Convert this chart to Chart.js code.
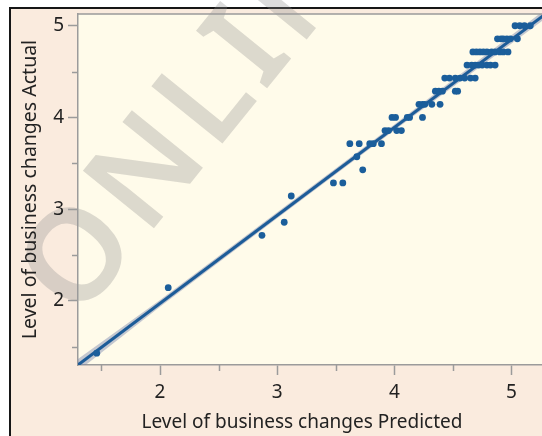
<!DOCTYPE html>
<html>
<head>
<meta charset="utf-8">
<script src="https://cdn.jsdelivr.net/npm/chart.js@4/dist/chart.umd.min.js"></script>
<style>
  html, body { margin: 0; padding: 0; background: #ffffff; }
  #wrap { width: 542px; height: 436px; }
  canvas { display: block; }
</style>
</head>
<body>
<div id="wrap"><canvas id="chart" width="542" height="436"></canvas></div>
<script>
// Axis ticks and titles
const xTickValues = [2, 3, 4, 5];
const yTickValues = [2, 3, 4, 5];
const xMinorTicks = [1.5, 2.5, 3.5, 4.5];
const yMinorTicks = [1.5, 2.5, 3.5, 4.5];
const xTitle = 'Level of business changes Predicted';
const yTitle = 'Level of business changes Actual';

// Observations: predicted vs actual level of business changes
const predicted = [
  1.46,
  2.07,
  2.87,
  3.06,
  3.12,
  3.48, 3.56,
  3.73,
  3.68,
  3.62, 3.70, 3.79, 3.82, 3.89,
  3.92, 3.95, 4.02, 4.06,
  3.98, 4.01, 4.11, 4.13, 4.24,
  4.21, 4.24, 4.26, 4.32, 4.39,
  4.35, 4.38, 4.41, 4.52, 4.54,
  4.43, 4.47, 4.52, 4.56, 4.60, 4.65, 4.69,
  4.62, 4.66, 4.69, 4.72, 4.75, 4.79, 4.82, 4.86,
  4.67, 4.70, 4.73, 4.76, 4.79, 4.83, 4.86, 4.90, 4.93, 4.97,
  4.88, 4.91, 4.93, 4.96, 4.99, 5.05,
  5.03, 5.07, 5.11, 5.16
];
const actual = [
  1.429,
  2.143,
  2.714,
  2.857,
  3.143,
  3.286, 3.286,
  3.429,
  3.571,
  3.714, 3.714, 3.714, 3.714, 3.714,
  3.857, 3.857, 3.857, 3.857,
  4.0, 4.0, 4.0, 4.0, 4.0,
  4.143, 4.143, 4.143, 4.143, 4.143,
  4.286, 4.286, 4.286, 4.286, 4.286,
  4.429, 4.429, 4.429, 4.429, 4.429, 4.429, 4.429,
  4.571, 4.571, 4.571, 4.571, 4.571, 4.571, 4.571, 4.571,
  4.714, 4.714, 4.714, 4.714, 4.714, 4.714, 4.714, 4.714, 4.714, 4.714,
  4.857, 4.857, 4.857, 4.857, 4.857, 4.857,
  5.0, 5.0, 5.0, 5.0
];

// Fit line and its confidence band
const fitX = [1.30, 5.27];
const fitY = [1.30, 5.11];
const bandX = [1.30, 2.0, 3.0, 4.0, 5.27];
const bandLower = [1.235, 1.935, 2.900, 3.860, 5.06];
const bandUpper = [1.365, 2.010, 2.965, 3.922, 5.16];

const toPoints = (xs, ys) => xs.map((x, i) => ({ x: x, y: ys[i] }));

const FONT = "'Noto Sans', 'Open Sans', 'DejaVu Sans', sans-serif";
const OUTER_BG = '#FAEBDE';
const PLOT_BG = '#FFFBEA';
const AXIS_GRAY = '#9b9b9b';
const TEXT = '#222222';

const backdrop = {
  id: 'backdrop',
  beforeDraw(chart) {
    const { ctx, chartArea: a, width, height } = chart;
    ctx.save();
    ctx.fillStyle = '#ffffff';
    ctx.fillRect(0, 0, width, height);
    ctx.fillStyle = OUTER_BG;
    ctx.fillRect(10, 8, width - 10, height - 8);
    // frame
    ctx.strokeStyle = '#161616';
    ctx.lineWidth = 2;
    ctx.beginPath();
    ctx.moveTo(10, height);
    ctx.lineTo(10, 8);
    ctx.lineTo(width, 8);
    ctx.stroke();
    // plot panel
    ctx.fillStyle = PLOT_BG;
    ctx.fillRect(a.left, a.top, a.right - a.left, a.bottom - a.top);
    // watermark
    ctx.translate(78, 322);
    ctx.rotate(-51 * Math.PI / 180);
    ctx.font = "600 128px " + FONT;
    if ('letterSpacing' in ctx) ctx.letterSpacing = '8px';
    ctx.fillStyle = 'rgba(140,140,140,0.3)';
    ctx.textBaseline = 'alphabetic';
    ctx.textAlign = 'left';
    ctx.fillText('ONLINE', 0, 0);
    ctx.restore();
  },
  afterDraw(chart) {
    const { ctx, chartArea: a, scales } = chart;
    ctx.save();
    ctx.strokeStyle = AXIS_GRAY;
    ctx.lineWidth = 1.5;
    ctx.beginPath();
    ctx.moveTo(a.left, a.top);
    ctx.lineTo(a.right, a.top);
    xMinorTicks.forEach(v => {
      const px = Math.round(scales.x.getPixelForValue(v)) + 0.5;
      ctx.moveTo(px, a.bottom);
      ctx.lineTo(px, a.bottom + 6);
    });
    yMinorTicks.forEach(v => {
      const py = Math.round(scales.y.getPixelForValue(v)) + 0.5;
      ctx.moveTo(a.left - 6, py);
      ctx.lineTo(a.left, py);
    });
    ctx.stroke();
    // x axis title, centred on the frame
    ctx.fillStyle = TEXT;
    ctx.font = '19px ' + FONT;
    ctx.textAlign = 'center';
    ctx.textBaseline = 'middle';
    ctx.fillText(xTitle, (a.left + a.right) / 2 - 8, 423);
    ctx.restore();
  }
};

const axisCommon = {
  type: 'linear',
  grid: {
    display: true,
    drawOnChartArea: false,
    drawTicks: true,
    tickLength: 10,
    tickColor: AXIS_GRAY,
    tickWidth: 1.5
  },
  border: { display: true, color: AXIS_GRAY, width: 1.5 }
};

new Chart(document.getElementById('chart'), {
  type: 'scatter',
  data: {
    datasets: [
      {
        label: 'Actual',
        data: toPoints(predicted, actual),
        pointRadius: 3.4,
        pointHoverRadius: 3.4,
        pointBackgroundColor: '#1B5E9B',
        pointBorderWidth: 0,
        order: 0
      },
      {
        label: 'Fit',
        data: toPoints(fitX, fitY),
        showLine: true,
        borderColor: '#1D5C98',
        borderWidth: 3,
        pointRadius: 0,
        order: 1
      },
      {
        label: 'Lower',
        data: toPoints(bandX, bandLower),
        showLine: true,
        borderWidth: 0,
        pointRadius: 0,
        fill: false,
        order: 3
      },
      {
        label: 'Upper',
        data: toPoints(bandX, bandUpper),
        showLine: true,
        borderWidth: 0,
        pointRadius: 0,
        fill: '-1',
        backgroundColor: 'rgba(125,135,175,0.45)',
        order: 2
      }
    ]
  },
  options: {
    responsive: false,
    animation: false,
    devicePixelRatio: 1,
    layout: { autoPadding: false, padding: { left: 12, top: 14, right: 0, bottom: 0 } },
    plugins: {
      legend: { display: false },
      tooltip: { enabled: false },
      filler: { propagate: false }
    },
    scales: {
      x: Object.assign({}, axisCommon, {
        min: 1.30,
        max: 5.26,
        afterBuildTicks: s => { s.ticks = xTickValues.map(v => ({ value: v })); },
        afterFit: s => { s.height = 71; s.paddingLeft = 0; s.paddingRight = 0; },
        ticks: { color: TEXT, font: { family: FONT, size: 19 }, padding: 6 },
        title: { display: false }
      }),
      y: Object.assign({}, axisCommon, {
        min: 1.30,
        max: 5.128,
        afterBuildTicks: s => { s.ticks = yTickValues.map(v => ({ value: v })); },
        afterFit: s => { s.width = 66; s.paddingTop = 0; s.paddingBottom = 0; },
        ticks: { color: TEXT, font: { family: FONT, size: 19 }, padding: 4 },
        title: {
          display: true,
          text: yTitle,
          color: TEXT,
          font: { family: FONT, size: 19.5 },
          padding: { top: 7, bottom: 0 }
        }
      })
    }
  },
  plugins: [backdrop]
});
</script>
</body>
</html>
